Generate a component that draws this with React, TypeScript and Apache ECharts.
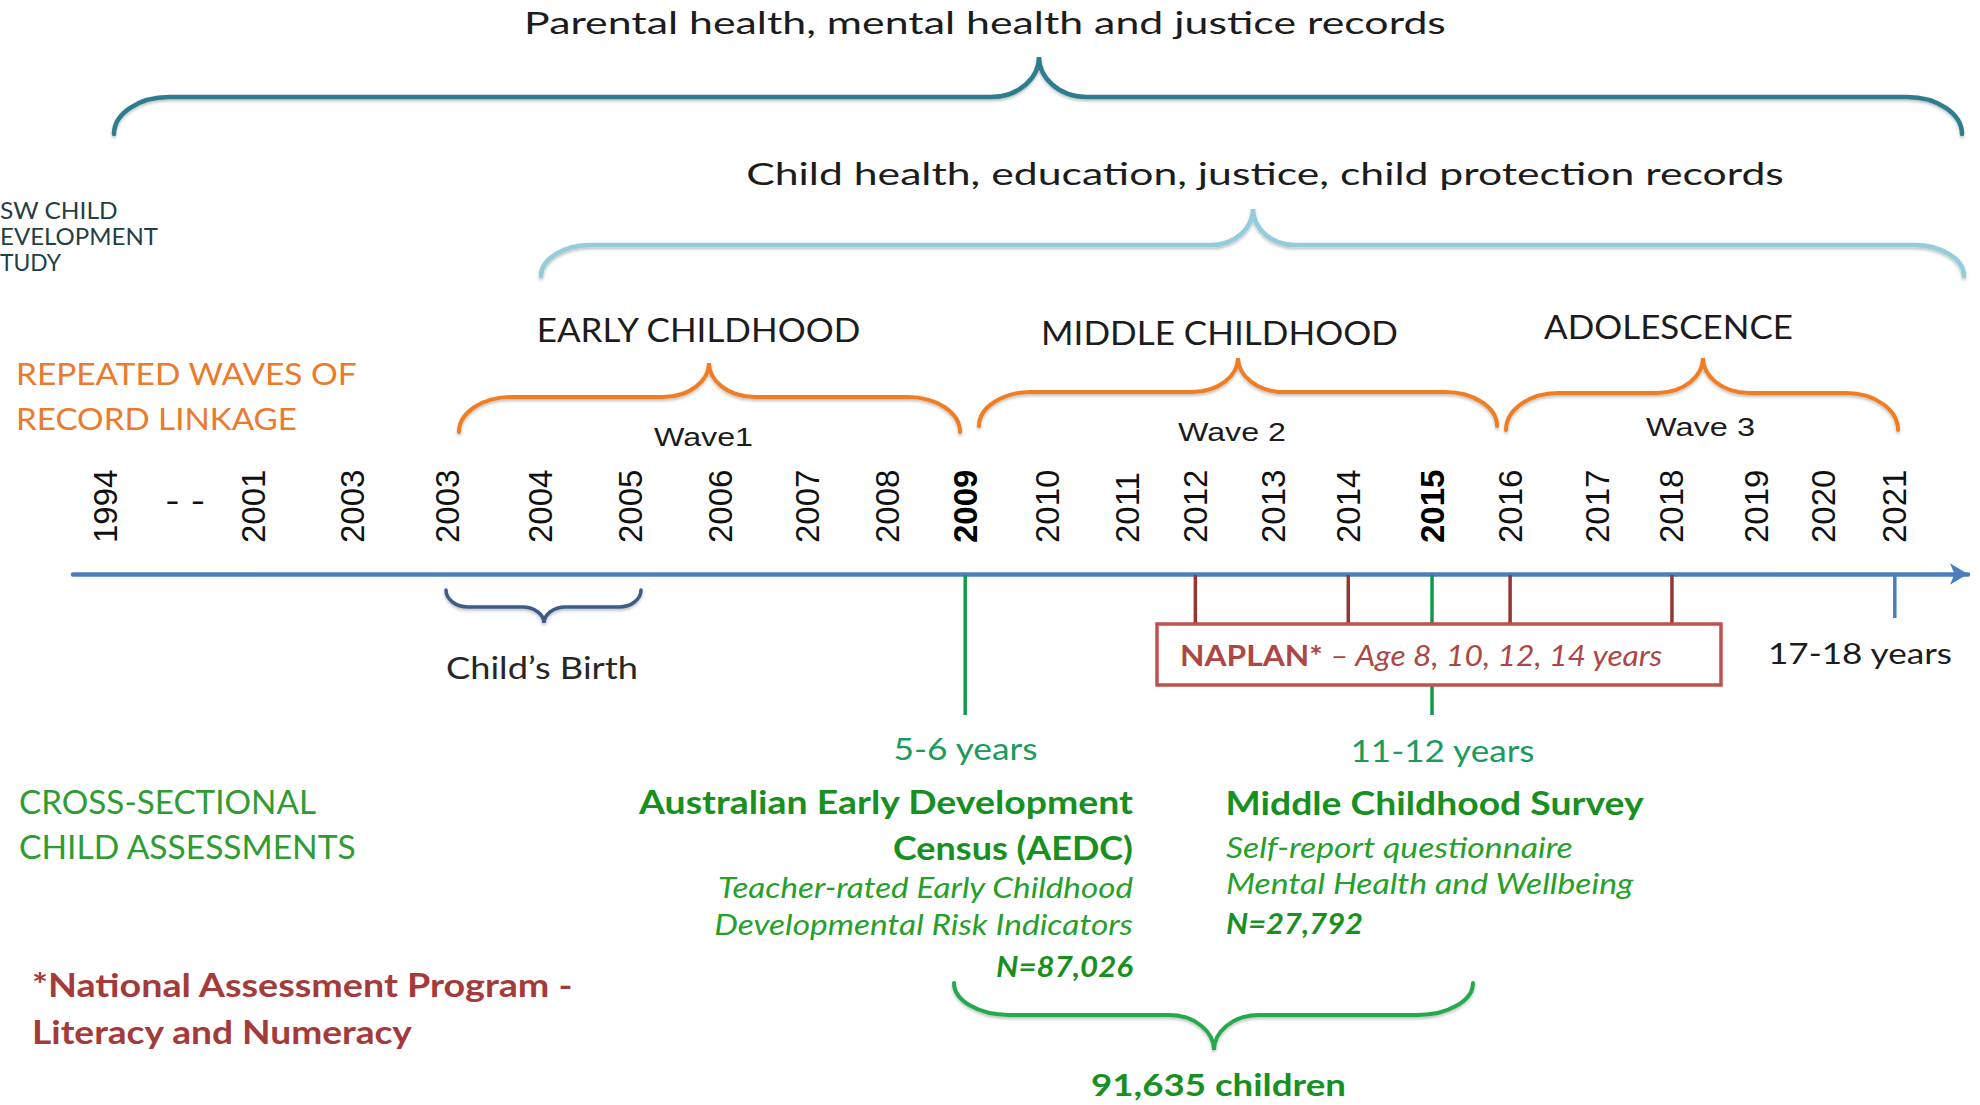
import React, { useEffect, useRef } from 'react';
import * as echarts from 'echarts';

// ---------------- data ----------------
const yearLabels = ['1994', '- -', '2001', '2003', '2003', '2004', '2005', '2006', '2007', '2008', '2009', '2010', '2011', '2012', '2013', '2014', '2015', '2016', '2017', '2018', '2019', '2020', '2021'];
// position of each label along the timeline (label index units)
const labelSlots = [0, 0.98, 1.82, 3.04, 4.2, 5.35, 6.45, 7.56, 8.63, 9.62, 10.57, 11.58, 12.56, 13.4, 14.36, 15.28, 16.31, 17.27, 18.34, 19.26, 20.3, 21.12, 22];
const boldYears = ['2009', '2015'];
const gapLabel = '- -';
const surveyYears = ['2009', '2015'];
const naplanYears = ['2012', '2014', '2016', '2018'];
const followUpYears = ['2021'];

// ---------------- styles ----------------
const TXT = '#1c1c1c';
const AXIS = '#4A7EBE';
const ORANGE_T = '#EC7A2C';
const ORANGE_L = '#F07D22';
const TEAL = '#2F7D8F';
const LIGHTBLUE = '#93CDDD';
const NAVY = '#3E5C8A';
const GREEN_LINE = '#12994A';
const GREEN_BRACE = '#25A84E';
const GREEN_AGE = '#1A9B5B';
const GREEN_DARK = '#17901F';
const GREEN_IT = '#26A02A';
const GREEN_LBL = '#2E9C32';
const RED_TICK = '#943634';
const RED_BOX = '#C0504D';
const RED_T = '#A43B3A';
const NAPLAN_T = '#AE4744';

function slotOf(label: string) {
  return labelSlots[yearLabels.lastIndexOf(label)];
}

const BraceShape = (echarts.graphic as any).extendShape({
  type: 'brace',
  shape: { x0: 0, x1: 0, xm: 0, yEnd: 0, yH: 0, yPeak: 0, r: 40, r2: 40 },
  buildPath: function (ctx: any, s: any) {
    ctx.moveTo(s.x0, s.yEnd);
    ctx.bezierCurveTo(s.x0, s.yEnd + (s.yH - s.yEnd) * 0.55, s.x0 + s.r * 0.45, s.yH, s.x0 + s.r, s.yH);
    ctx.lineTo(s.xm - s.r2, s.yH);
    ctx.bezierCurveTo(s.xm - s.r2 * 0.4, s.yH, s.xm, s.yH + (s.yPeak - s.yH) * 0.5, s.xm, s.yPeak);
    ctx.bezierCurveTo(s.xm, s.yH + (s.yPeak - s.yH) * 0.5, s.xm + s.r2 * 0.4, s.yH, s.xm + s.r2, s.yH);
    ctx.lineTo(s.x1 - s.r, s.yH);
    ctx.bezierCurveTo(s.x1 - s.r * 0.45, s.yH, s.x1, s.yEnd + (s.yH - s.yEnd) * 0.55, s.x1, s.yEnd);
  },
});
(echarts.graphic as any).registerShape('brace', BraceShape);

let mctx: CanvasRenderingContext2D | null = null;
function measure(text: string, font: string) {
  if (!mctx) mctx = document.createElement('canvas').getContext('2d');
  if (!mctx) return 0;
  mctx.font = font;
  return mctx.measureText(text).width;
}

type TOpt = {
  x: number; y: number; w?: number; align?: string; size: number;
  weight?: any; italic?: boolean; family?: string; color: string;
};
function makeText(text: string, o: TOpt) {
  const family = o.family || 'Lato';
  const weight = o.weight || 'normal';
  const fstyle = o.italic ? 'italic' : 'normal';
  let sx = 1;
  if (o.w) {
    const nat = measure(text, `${fstyle} ${weight} ${o.size}px "${family}"`);
    if (nat > 0) sx = o.w / nat;
  }
  return {
    type: 'text', x: o.x, y: o.y, scaleX: sx, z: 20,
    style: {
      text, x: 0, y: 0, fill: o.color, fontSize: o.size, fontFamily: family,
      fontWeight: weight, fontStyle: fstyle, align: o.align || 'left', verticalAlign: 'middle',
    },
  };
}

function brace(shape: any, color: string, width: number) {
  return {
    type: 'brace', z: 5, shape,
    style: {
      stroke: color, lineWidth: width, fill: 'none', lineCap: 'round',
      shadowBlur: 3, shadowColor: 'rgba(0,0,0,0.25)', shadowOffsetY: 2,
    },
  };
}

function buildGraphics() {
  const els: any[] = [];
  // braces
  els.push(brace({ x0: 114, x1: 1962, xm: 1039, yEnd: 134, yH: 97, yPeak: 57, r: 55, r2: 48 }, TEAL, 4.5));
  els.push(brace({ x0: 541, x1: 1964, xm: 1253, yEnd: 276, yH: 245, yPeak: 209, r: 50, r2: 42 }, LIGHTBLUE, 4.5));
  els.push(brace({ x0: 459, x1: 960, xm: 709, yEnd: 432, yH: 397, yPeak: 363, r: 52, r2: 46 }, ORANGE_L, 4));
  els.push(brace({ x0: 979, x1: 1497, xm: 1238, yEnd: 426, yH: 392, yPeak: 358, r: 52, r2: 46 }, ORANGE_L, 4));
  els.push(brace({ x0: 1506, x1: 1898, xm: 1703, yEnd: 430, yH: 393, yPeak: 358, r: 52, r2: 46 }, ORANGE_L, 4));
  els.push(brace({ x0: 446, x1: 641, xm: 544, yEnd: 590, yH: 607, yPeak: 623, r: 22, r2: 22 }, NAVY, 3.5));
  els.push(brace({ x0: 954, x1: 1473, xm: 1214, yEnd: 983, yH: 1015, yPeak: 1050, r: 55, r2: 45 }, GREEN_BRACE, 4));

  // NAPLAN box
  els.push({
    type: 'rect', z: 15,
    shape: { x: 1157, y: 624, width: 564, height: 61 },
    style: { fill: '#ffffff', stroke: RED_BOX, lineWidth: 3.5 },
  });

  // texts
  els.push(makeText('Parental health, mental health and justice records', { x: 985, y: 23, w: 922, align: 'center', size: 30, color: TXT }));
  els.push(makeText('Child health, education, justice, child protection records', { x: 1265, y: 174, w: 1038, align: 'center', size: 30, color: TXT }));

  els.push(makeText('SW CHILD', { x: 0, y: 210, w: 118, size: 23, color: '#233F45' }));
  els.push(makeText('EVELOPMENT', { x: 0, y: 236, w: 158, size: 23, color: '#233F45' }));
  els.push(makeText('TUDY', { x: 0, y: 262, w: 61, size: 23, color: '#233F45' }));

  els.push(makeText('REPEATED WAVES OF', { x: 16, y: 374, w: 341, size: 30, color: ORANGE_T }));
  els.push(makeText('RECORD LINKAGE', { x: 16, y: 419, w: 281, size: 30, color: ORANGE_T }));

  els.push(makeText('EARLY CHILDHOOD', { x: 698.5, y: 330, w: 325, align: 'center', size: 32, color: TXT }));
  els.push(makeText('MIDDLE CHILDHOOD', { x: 1219.5, y: 333, w: 357, align: 'center', size: 32, color: TXT }));
  els.push(makeText('ADOLESCENCE', { x: 1668.5, y: 327, w: 249, align: 'center', size: 32, color: TXT }));

  els.push(makeText('Wave1', { x: 703.5, y: 437, w: 99, align: 'center', size: 26, family: 'Liberation Sans', color: TXT }));
  els.push(makeText('Wave 2', { x: 1232, y: 432, w: 108, align: 'center', size: 26, family: 'Liberation Sans', color: TXT }));
  els.push(makeText('Wave 3', { x: 1700.5, y: 427, w: 109, align: 'center', size: 26, family: 'Liberation Sans', color: TXT }));

  els.push(makeText('Child’s Birth', { x: 542, y: 667, w: 192, align: 'center', size: 31, color: '#262626' }));
  els.push(makeText('17-18 years', { x: 1768, y: 653, w: 185, size: 29, color: TXT }));

  // NAPLAN label: bold + italic parts
  const p1 = 'NAPLAN*';
  const p2 = ' – Age 8, 10, 12, 14 years';
  const w1 = measure(p1, `normal bold 28px "Lato"`);
  const w2 = measure(p2, `italic normal 28px "Lato"`);
  const s = w1 + w2 > 0 ? 484 / (w1 + w2) : 1;
  els.push(makeText(p1, { x: 1180, y: 655, w: w1 * s, size: 28, weight: 'bold', color: NAPLAN_T }));
  els.push(makeText(p2, { x: 1180 + w1 * s, y: 655, w: w2 * s, size: 28, italic: true, color: NAPLAN_T }));

  els.push(makeText('5-6 years', { x: 965.5, y: 749, w: 145, align: 'center', size: 30, color: GREEN_AGE }));
  els.push(makeText('11-12 years', { x: 1442.5, y: 751, w: 185, align: 'center', size: 30, color: GREEN_AGE }));

  els.push(makeText('Australian Early Development', { x: 1133, y: 802, w: 495, align: 'right', size: 32, weight: 'bold', color: GREEN_DARK }));
  els.push(makeText('Census (AEDC)', { x: 1133, y: 847, w: 240, align: 'right', size: 32, weight: 'bold', color: GREEN_DARK }));
  els.push(makeText('Teacher-rated Early Childhood', { x: 1133, y: 887, w: 416, align: 'right', size: 29, italic: true, color: GREEN_IT }));
  els.push(makeText('Developmental Risk Indicators', { x: 1133, y: 924, w: 419, align: 'right', size: 29, italic: true, color: GREEN_IT }));
  els.push(makeText('N=87,026', { x: 1133, y: 965, w: 137, align: 'right', size: 29, weight: 'bold', italic: true, color: GREEN_DARK }));

  els.push(makeText('Middle Childhood Survey', { x: 1225.5, y: 803, w: 418, size: 32, weight: 'bold', color: GREEN_DARK }));
  els.push(makeText('Self-report questionnaire', { x: 1226, y: 847, w: 347, size: 29, italic: true, color: GREEN_IT }));
  els.push(makeText('Mental Health and Wellbeing', { x: 1226, y: 883, w: 408, size: 29, italic: true, color: GREEN_IT }));
  els.push(makeText('N=27,792', { x: 1226, y: 922, w: 137, size: 29, weight: 'bold', italic: true, color: GREEN_DARK }));

  els.push(makeText('CROSS-SECTIONAL', { x: 19, y: 802, w: 297, size: 32, color: GREEN_LBL }));
  els.push(makeText('CHILD ASSESSMENTS', { x: 19, y: 847, w: 338, size: 32, color: GREEN_LBL }));

  els.push(makeText('*National Assessment Program -', { x: 32, y: 985, w: 542, size: 32, weight: 'bold', color: RED_T }));
  els.push(makeText('Literacy and Numeracy', { x: 32, y: 1032, w: 381, size: 32, weight: 'bold', color: RED_T }));

  els.push(makeText('91,635 children', { x: 1218.5, y: 1084, w: 255, align: 'center', size: 30, weight: 'bold', color: GREEN_DARK }));
  return els;
}

const MARKER_COLORS = [GREEN_LINE, RED_TICK, AXIS];
const MARKER_LEN = [141, 50, 44];

export default function App() {
  const ref = useRef<HTMLDivElement>(null);
  useEffect(() => {
    if (!ref.current) return;
    const chart = echarts.init(ref.current, null, { renderer: 'svg' });

    const markerData: any[] = [
      ...surveyYears.map((y) => [slotOf(y), 0, 0]),
      ...naplanYears.map((y) => [slotOf(y), 0, 1]),
      ...followUpYears.map((y) => [slotOf(y), 0, 2]),
    ];
    const axisValues = labelSlots.filter((_, i) => yearLabels[i] !== gapLabel);

    const option: any = {
      animation: false,
      backgroundColor: '#ffffff',
      grid: { left: 73, right: 12, top: 400, bottom: 531, containLabel: false },
      xAxis: {
        type: 'value',
        min: -0.4,
        max: 22.9,
        splitLine: { show: false },
        axisTick: { show: false },
        axisLine: {
          show: true,
          onZero: false,
          lineStyle: { color: AXIS, width: 4.5 },
          symbol: ['none', 'arrow'],
          symbolSize: [16, 18],
        },
        axisLabel: {
          show: true,
          inside: true,
          rotate: 90,
          margin: 31,
          customValues: axisValues,
          formatter: (v: number) => {
            const i = labelSlots.indexOf(v);
            const t = yearLabels[i] || '';
            return boldYears.includes(t) ? `{b|${t}}` : `{n|${t}}`;
          },
          rich: {
            b: { fontWeight: 'bold', fontSize: 33, fontFamily: 'Liberation Sans', color: '#000' },
            n: { fontWeight: 'normal', fontSize: 33, fontFamily: 'Liberation Sans', color: '#111' },
          },
          fontSize: 33,
          fontFamily: 'Liberation Sans',
          color: '#111',
        },
      },
      yAxis: { type: 'value', min: 0, max: 1, show: false },
      series: [
        {
          type: 'custom',
          clip: false,
          z: 3,
          dimensions: ['x', 'y', 'kind'],
          encode: { x: 0, y: 1 },
          data: markerData,
          renderItem: (params: any, api: any) => {
            const p = api.coord([api.value(0), 0]);
            const k = api.value(2);
            return {
              type: 'line',
              shape: { x1: p[0], y1: p[1] + 1, x2: p[0], y2: p[1] + MARKER_LEN[k] },
              style: { stroke: MARKER_COLORS[k], lineWidth: 3.5 },
            };
          },
        },
        {
          type: 'custom',
          clip: false,
          z: 3,
          dimensions: ['x', 'y'],
          encode: { x: 0, y: 1 },
          data: [[slotOf(gapLabel), 0]],
          renderItem: (params: any, api: any) => {
            const p = api.coord([api.value(0), 0]);
            return {
              type: 'text',
              x: p[0],
              y: p[1] - 74,
              scaleX: 1.3,
              style: {
                text: gapLabel,
                x: 0,
                y: 0,
                align: 'center',
                verticalAlign: 'middle',
                fontSize: 32,
                fontFamily: 'Liberation Sans',
                fill: '#111',
              },
            };
          },
        },
      ],
      graphic: { elements: buildGraphics() },
    };
    chart.setOption(option);
    return () => chart.dispose();
  }, []);

  return (
    <div
      ref={ref}
      style={{ position: 'fixed', left: 0, top: 0, width: 1980, height: 1105, background: '#fff' }}
    />
  );
}
